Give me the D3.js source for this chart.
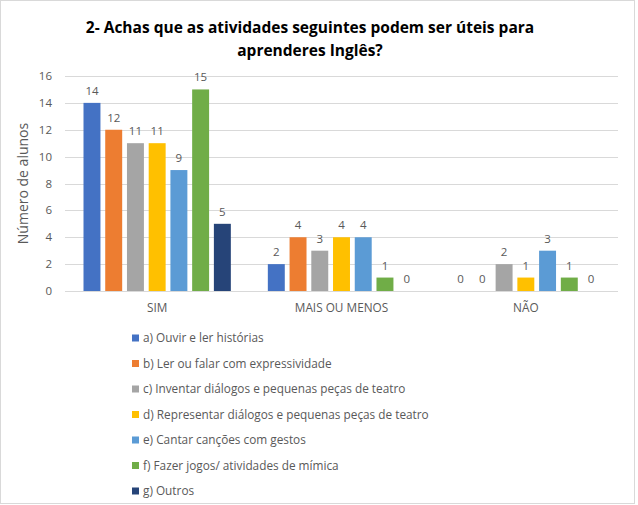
<!DOCTYPE html>
<html>
<head>
<meta charset="utf-8">
<script src="https://cdn.jsdelivr.net/npm/d3@7"></script>
<style>
  body { margin: 0; background: #fff; }
  text { font-family: "Open Sans", Lato, sans-serif; }
</style>
</head>
<body>
<script>
var categories = ['SIM', 'MAIS OU MENOS', 'NÃO'];
var seriesNames = [
    'a) Ouvir e ler histórias',
    'b) Ler ou falar com expressividade',
    'c) Inventar diálogos e pequenas peças de teatro',
    'd) Representar diálogos e pequenas peças de teatro',
    'e) Cantar canções com gestos',
    'f) Fazer jogos/ atividades de mímica',
    'g) Outros'
];
// values per series, in category order
var serieA = [14, 2, 0];
var serieB = [12, 4, 0];
var serieC = [11, 3, 2];
var serieD = [11, 4, 1];
var serieE = [9, 4, 3];
var serieF = [15, 1, 1];
var serieG = [5, 0, 0];
var yTicks = [0, 2, 4, 6, 8, 10, 12, 14, 16];
var colors = ['#4472C4', '#ED7D31', '#A5A5A5', '#FFC000', '#5B9BD5', '#70AD47', '#264478'];

var series = [serieA, serieB, serieC, serieD, serieE, serieF, serieG];

var svg = d3.select('body').append('svg')
    .attr('width', 638)
    .attr('height', 505);

svg.append('rect')
    .attr('x', 0.5).attr('y', 0.5)
    .attr('width', 634).attr('height', 503)
    .attr('fill', '#fff')
    .attr('stroke', '#d9d9d9');

var plot = { left: 65, right: 618, top: 76, bottom: 291 };

var x0 = d3.scaleBand()
    .domain(categories)
    .range([plot.left, plot.right]);

var x1 = d3.scaleBand()
    .domain(d3.range(series.length))
    .range([18.5, x0.bandwidth() - 18.5])
    .paddingInner(0.22);

var y = d3.scaleLinear()
    .domain([0, 16])
    .range([plot.bottom, plot.top]);

// title
var title = svg.append('text')
    .attr('x', 310)
    .attr('text-anchor', 'middle')
    .style('font-weight', 'bold')
    .style('font-size', '15.5px')
    .attr('fill', '#000');
title.append('tspan').attr('x', 310).attr('y', 33)
    .text('2- Achas que as atividades seguintes podem ser úteis para');
title.append('tspan').attr('x', 310).attr('y', 56)
    .text('aprenderes Inglês?');

// gridlines
svg.append('g')
    .selectAll('line')
    .data(yTicks)
    .enter().append('line')
    .attr('x1', plot.left)
    .attr('x2', plot.right)
    .attr('y1', function (d) { return Math.round(y(d)) + 0.5; })
    .attr('y2', function (d) { return Math.round(y(d)) + 0.5; })
    .attr('stroke', '#d9d9d9');

// y tick labels
svg.append('g')
    .selectAll('text')
    .data(yTicks)
    .enter().append('text')
    .attr('x', 52)
    .attr('y', function (d) { return y(d); })
    .attr('dy', '0.35em')
    .attr('text-anchor', 'end')
    .style('font-size', '11.5px')
    .attr('fill', '#595959')
    .text(function (d) { return d; });

// y axis title
svg.append('text')
    .attr('transform', 'translate(23,' + ((plot.top + plot.bottom) / 2) + ') rotate(-90)')
    .attr('text-anchor', 'middle')
    .attr('dy', '0.35em')
    .style('font-size', '14px')
    .attr('fill', '#595959')
    .text('Número de alunos');

// bars
var group = svg.append('g')
    .selectAll('g')
    .data(categories)
    .enter().append('g')
    .attr('transform', function (d) { return 'translate(' + x0(d) + ',0)'; });

group.selectAll('rect')
    .data(function (c, ci) { return series.map(function (s, si) { return { si: si, v: s[ci] }; }); })
    .enter().append('rect')
    .attr('x', function (d) { return x1(d.si); })
    .attr('y', function (d) { return y(d.v); })
    .attr('width', x1.bandwidth())
    .attr('height', function (d) { return y(0) - y(d.v); })
    .attr('fill', function (d) { return colors[d.si]; });

group.selectAll('text')
    .data(function (c, ci) { return series.map(function (s, si) { return { si: si, v: s[ci] }; }); })
    .enter().append('text')
    .attr('x', function (d) { return x1(d.si) + x1.bandwidth() / 2; })
    .attr('y', function (d) { return y(d.v) - 8; })
    .attr('text-anchor', 'middle')
    .style('font-size', '11.5px')
    .attr('fill', '#595959')
    .text(function (d) { return d.v; });

// category labels
svg.append('g')
    .selectAll('text')
    .data(categories)
    .enter().append('text')
    .attr('x', function (d) { return x0(d) + x0.bandwidth() / 2; })
    .attr('y', 308)
    .attr('dy', '0.35em')
    .attr('text-anchor', 'middle')
    .style('font-size', '11.8px')
    .attr('fill', '#595959')
    .text(function (d) { return d; });

// legend
var legend = svg.append('g')
    .selectAll('g')
    .data(seriesNames)
    .enter().append('g')
    .attr('transform', function (d, i) { return 'translate(132,' + (338 + i * 25.5) + ')'; });

legend.append('rect')
    .attr('x', 0)
    .attr('y', -3.5)
    .attr('width', 7)
    .attr('height', 7)
    .attr('fill', function (d, i) { return colors[i]; });

legend.append('text')
    .attr('x', 11)
    .attr('dy', '0.35em')
    .style('font-size', '11.8px')
    .attr('fill', '#595959')
    .text(function (d) { return d; });
</script>
</body>
</html>
